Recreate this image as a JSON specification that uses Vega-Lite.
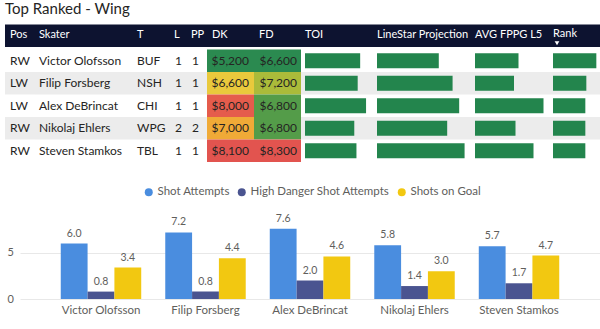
{
  "$schema": "https://vega.github.io/schema/vega-lite/v6.json",
  "padding": {"left": 5, "top": 2, "right": 0, "bottom": 0},
  "background": "white",
  "title": {"text": "Top Ranked - Wing", "anchor": "start", "fontSize": 15, "fontWeight": "normal", "color": "#252423", "font": "Lato", "offset": 7.5},
  "config": {"view": {"stroke": null}, "font": "Lato"},
  "datasets": {
    "players": [
      {"pos": "RW", "skater": "Victor Olofsson", "team": "BUF", "line": 1, "pp": 1, "dk": 5200, "fd": 6600, "toi": 17.8, "proj": 10.3, "fppg": 8.7, "rank": 13.0},
      {"pos": "LW", "skater": "Filip Forsberg", "team": "NSH", "line": 1, "pp": 1, "dk": 6600, "fd": 7200, "toi": 17.0, "proj": 12.6, "fppg": 7.8, "rank": 10.0},
      {"pos": "LW", "skater": "Alex DeBrincat", "team": "CHI", "line": 1, "pp": 1, "dk": 8000, "fd": 6800, "toi": 19.7, "proj": 13.7, "fppg": 13.7, "rank": 9.7},
      {"pos": "RW", "skater": "Nikolaj Ehlers", "team": "WPG", "line": 2, "pp": 2, "dk": 7000, "fd": 6800, "toi": 15.9, "proj": 11.7, "fppg": 8.1, "rank": 9.7},
      {"pos": "RW", "skater": "Steven Stamkos", "team": "TBL", "line": 1, "pp": 1, "dk": 8100, "fd": 8300, "toi": 16.6, "proj": 14.6, "fppg": 11.7, "rank": 9.7}
    ],
    "headers": [
      {"name": "Pos"}, {"name": "Skater"}, {"name": "T"}, {"name": "L"}, {"name": "PP"}, {"name": "DK"}, {"name": "FD"},
      {"name": "TOI"}, {"name": "LineStar Projection"}, {"name": "AVG FPPG L5"}, {"name": "Rank"}
    ],
    "shots": [
      {"player": "Victor Olofsson", "metric": "Shot Attempts", "value": 6.0},
      {"player": "Victor Olofsson", "metric": "High Danger Shot Attempts", "value": 0.8},
      {"player": "Victor Olofsson", "metric": "Shots on Goal", "value": 3.4},
      {"player": "Filip Forsberg", "metric": "Shot Attempts", "value": 7.2},
      {"player": "Filip Forsberg", "metric": "High Danger Shot Attempts", "value": 0.8},
      {"player": "Filip Forsberg", "metric": "Shots on Goal", "value": 4.4},
      {"player": "Alex DeBrincat", "metric": "Shot Attempts", "value": 7.6},
      {"player": "Alex DeBrincat", "metric": "High Danger Shot Attempts", "value": 2.0},
      {"player": "Alex DeBrincat", "metric": "Shots on Goal", "value": 4.6},
      {"player": "Nikolaj Ehlers", "metric": "Shot Attempts", "value": 5.8},
      {"player": "Nikolaj Ehlers", "metric": "High Danger Shot Attempts", "value": 1.4},
      {"player": "Nikolaj Ehlers", "metric": "Shots on Goal", "value": 3.0},
      {"player": "Steven Stamkos", "metric": "Shot Attempts", "value": 5.7},
      {"player": "Steven Stamkos", "metric": "High Danger Shot Attempts", "value": 1.7},
      {"player": "Steven Stamkos", "metric": "Shots on Goal", "value": 4.7}
    ]
  },
  "spacing": 24,
  "resolve": {"scale": {"fill": "independent", "color": "independent"}, "legend": {"color": "independent", "fill": "independent"}},
  "vconcat": [
    {
      "spacing": 0,
      "resolve": {"scale": {"fill": "independent"}},
      "hconcat": [
        {
          "width": 30, "height": 135, "data": {"name": "players"},
          "layer": [
            {"transform": [{"window": [{"op": "row_number", "as": "rn"}]}, {"filter": "datum.rn % 2 == 0"}], "mark": {"type": "rect", "color": "#ececec"}, "encoding": {"y": {"field": "skater", "type": "nominal", "scale": {"domain": [" ", "Victor Olofsson", "Filip Forsberg", "Alex DeBrincat", "Nikolaj Ehlers", "Steven Stamkos"], "paddingInner": 0, "paddingOuter": 0}, "axis": null}, "x": {"value": 0}, "x2": {"value": "width"}}},
            {"data": {"name": "headers"}, "transform": [{"filter": "datum.name == 'Pos'"}], "mark": {"type": "rect", "color": "#0d1330", "yOffset": -2.5}, "encoding": {"y": {"datum": " ", "type": "nominal"}, "x": {"value": 0}, "x2": {"value": "width"}}},
            {"data": {"name": "headers"}, "transform": [{"filter": "datum.name == 'Pos'"}], "mark": {"type": "text", "align": "left", "dx": 5, "dy": -3, "fontSize": 11, "color": "white"}, "encoding": {"y": {"datum": " ", "type": "nominal"}, "x": {"value": 0}, "text": {"field": "name"}}},
            {"mark": {"type": "text", "align": "left", "dx": 5, "fontSize": 12, "color": "#252423"}, "encoding": {"y": {"field": "skater", "type": "nominal"}, "x": {"value": 0}, "text": {"field": "pos"}}}
          ]
        },
        {
          "width": 98, "height": 135, "data": {"name": "players"},
          "layer": [
            {"transform": [{"window": [{"op": "row_number", "as": "rn"}]}, {"filter": "datum.rn % 2 == 0"}], "mark": {"type": "rect", "color": "#ececec"}, "encoding": {"y": {"field": "skater", "type": "nominal", "scale": {"domain": [" ", "Victor Olofsson", "Filip Forsberg", "Alex DeBrincat", "Nikolaj Ehlers", "Steven Stamkos"], "paddingInner": 0, "paddingOuter": 0}, "axis": null}, "x": {"value": 0}, "x2": {"value": "width"}}},
            {"data": {"name": "headers"}, "transform": [{"filter": "datum.name == 'Skater'"}], "mark": {"type": "rect", "color": "#0d1330", "yOffset": -2.5}, "encoding": {"y": {"datum": " ", "type": "nominal"}, "x": {"value": 0}, "x2": {"value": "width"}}},
            {"data": {"name": "headers"}, "transform": [{"filter": "datum.name == 'Skater'"}], "mark": {"type": "text", "align": "left", "dx": 4, "dy": -3, "fontSize": 11, "color": "white"}, "encoding": {"y": {"datum": " ", "type": "nominal"}, "x": {"value": 0}, "text": {"field": "name"}}},
            {"mark": {"type": "text", "align": "left", "dx": 4, "fontSize": 12, "color": "#252423"}, "encoding": {"y": {"field": "skater", "type": "nominal"}, "x": {"value": 0}, "text": {"field": "skater"}}}
          ]
        },
        {
          "width": 37, "height": 135, "data": {"name": "players"},
          "layer": [
            {"transform": [{"window": [{"op": "row_number", "as": "rn"}]}, {"filter": "datum.rn % 2 == 0"}], "mark": {"type": "rect", "color": "#ececec"}, "encoding": {"y": {"field": "skater", "type": "nominal", "scale": {"domain": [" ", "Victor Olofsson", "Filip Forsberg", "Alex DeBrincat", "Nikolaj Ehlers", "Steven Stamkos"], "paddingInner": 0, "paddingOuter": 0}, "axis": null}, "x": {"value": 0}, "x2": {"value": "width"}}},
            {"data": {"name": "headers"}, "transform": [{"filter": "datum.name == 'T'"}], "mark": {"type": "rect", "color": "#0d1330", "yOffset": -2.5}, "encoding": {"y": {"datum": " ", "type": "nominal"}, "x": {"value": 0}, "x2": {"value": "width"}}},
            {"data": {"name": "headers"}, "transform": [{"filter": "datum.name == 'T'"}], "mark": {"type": "text", "align": "left", "dx": 4, "dy": -3, "fontSize": 11, "color": "white"}, "encoding": {"y": {"datum": " ", "type": "nominal"}, "x": {"value": 0}, "text": {"field": "name"}}},
            {"mark": {"type": "text", "align": "left", "dx": 4, "fontSize": 12, "color": "#252423"}, "encoding": {"y": {"field": "skater", "type": "nominal"}, "x": {"value": 0}, "text": {"field": "team"}}}
          ]
        },
        {
          "width": 17, "height": 135, "data": {"name": "players"},
          "layer": [
            {"transform": [{"window": [{"op": "row_number", "as": "rn"}]}, {"filter": "datum.rn % 2 == 0"}], "mark": {"type": "rect", "color": "#ececec"}, "encoding": {"y": {"field": "skater", "type": "nominal", "scale": {"domain": [" ", "Victor Olofsson", "Filip Forsberg", "Alex DeBrincat", "Nikolaj Ehlers", "Steven Stamkos"], "paddingInner": 0, "paddingOuter": 0}, "axis": null}, "x": {"value": 0}, "x2": {"value": "width"}}},
            {"data": {"name": "headers"}, "transform": [{"filter": "datum.name == 'L'"}], "mark": {"type": "rect", "color": "#0d1330", "yOffset": -2.5}, "encoding": {"y": {"datum": " ", "type": "nominal"}, "x": {"value": 0}, "x2": {"value": "width"}}},
            {"data": {"name": "headers"}, "transform": [{"filter": "datum.name == 'L'"}], "mark": {"type": "text", "align": "left", "dx": 4, "dy": -3, "fontSize": 11, "color": "white"}, "encoding": {"y": {"datum": " ", "type": "nominal"}, "x": {"value": 0}, "text": {"field": "name"}}},
            {"mark": {"type": "text", "align": "left", "dx": 5, "fontSize": 12, "color": "#252423"}, "encoding": {"y": {"field": "skater", "type": "nominal"}, "x": {"value": 0}, "text": {"field": "line"}}}
          ]
        },
        {
          "width": 20, "height": 135, "data": {"name": "players"},
          "layer": [
            {"transform": [{"window": [{"op": "row_number", "as": "rn"}]}, {"filter": "datum.rn % 2 == 0"}], "mark": {"type": "rect", "color": "#ececec"}, "encoding": {"y": {"field": "skater", "type": "nominal", "scale": {"domain": [" ", "Victor Olofsson", "Filip Forsberg", "Alex DeBrincat", "Nikolaj Ehlers", "Steven Stamkos"], "paddingInner": 0, "paddingOuter": 0}, "axis": null}, "x": {"value": 0}, "x2": {"value": "width"}}},
            {"data": {"name": "headers"}, "transform": [{"filter": "datum.name == 'PP'"}], "mark": {"type": "rect", "color": "#0d1330", "yOffset": -2.5}, "encoding": {"y": {"datum": " ", "type": "nominal"}, "x": {"value": 0}, "x2": {"value": "width"}}},
            {"data": {"name": "headers"}, "transform": [{"filter": "datum.name == 'PP'"}], "mark": {"type": "text", "align": "left", "dx": 4, "dy": -3, "fontSize": 11, "color": "white"}, "encoding": {"y": {"datum": " ", "type": "nominal"}, "x": {"value": 0}, "text": {"field": "name"}}},
            {"mark": {"type": "text", "align": "left", "dx": 5, "fontSize": 12, "color": "#252423"}, "encoding": {"y": {"field": "skater", "type": "nominal"}, "x": {"value": 0}, "text": {"field": "pp"}}}
          ]
        },
        {
          "width": 47, "height": 135, "data": {"name": "players"},
          "layer": [
            {"data": {"name": "headers"}, "transform": [{"filter": "datum.name == 'DK'"}], "mark": {"type": "rect", "color": "#0d1330", "yOffset": -2.5}, "encoding": {"y": {"datum": " ", "type": "nominal", "scale": {"domain": [" ", "Victor Olofsson", "Filip Forsberg", "Alex DeBrincat", "Nikolaj Ehlers", "Steven Stamkos"], "paddingInner": 0, "paddingOuter": 0}, "axis": null}, "x": {"value": 0}, "x2": {"value": "width"}}},
            {"data": {"name": "headers"}, "transform": [{"filter": "datum.name == 'DK'"}], "mark": {"type": "text", "align": "left", "dx": 5, "dy": -3, "fontSize": 11, "color": "white"}, "encoding": {"y": {"datum": " ", "type": "nominal"}, "x": {"value": 0}, "text": {"field": "name"}}},
            {"mark": {"type": "rect"}, "encoding": {"y": {"field": "skater", "type": "nominal"}, "x": {"value": 0}, "x2": {"value": "width"}, "fill": {"field": "dk", "type": "quantitative", "scale": {"domain": [5200, 6600, 8100], "range": ["#2b8a50", "#e9c93c", "#e2544f"]}, "legend": null}}},
            {"mark": {"type": "text", "align": "right", "dx": -5, "fontSize": 12, "color": "#252423"}, "encoding": {"y": {"field": "skater", "type": "nominal"}, "x": {"value": "width"}, "text": {"field": "dk", "format": "$,.0f"}}}
          ]
        },
        {
          "width": 47, "height": 135, "data": {"name": "players"},
          "layer": [
            {"data": {"name": "headers"}, "transform": [{"filter": "datum.name == 'FD'"}], "mark": {"type": "rect", "color": "#0d1330", "yOffset": -2.5}, "encoding": {"y": {"datum": " ", "type": "nominal", "scale": {"domain": [" ", "Victor Olofsson", "Filip Forsberg", "Alex DeBrincat", "Nikolaj Ehlers", "Steven Stamkos"], "paddingInner": 0, "paddingOuter": 0}, "axis": null}, "x": {"value": 0}, "x2": {"value": "width"}}},
            {"data": {"name": "headers"}, "transform": [{"filter": "datum.name == 'FD'"}], "mark": {"type": "text", "align": "left", "dx": 5, "dy": -3, "fontSize": 11, "color": "white"}, "encoding": {"y": {"datum": " ", "type": "nominal"}, "x": {"value": 0}, "text": {"field": "name"}}},
            {"mark": {"type": "rect"}, "encoding": {"y": {"field": "skater", "type": "nominal"}, "x": {"value": 0}, "x2": {"value": "width"}, "fill": {"field": "fd", "type": "quantitative", "scale": {"domain": [6600, 7450, 8300], "range": ["#2b8a50", "#e9c93c", "#e2544f"]}, "legend": null}}},
            {"mark": {"type": "text", "align": "right", "dx": -4, "fontSize": 12, "color": "#252423"}, "encoding": {"y": {"field": "skater", "type": "nominal"}, "x": {"value": "width"}, "text": {"field": "fd", "format": "$,.0f"}}}
          ]
        },
        {
          "width": 72, "height": 135, "data": {"name": "players"},
          "layer": [
            {"transform": [{"window": [{"op": "row_number", "as": "rn"}]}, {"filter": "datum.rn % 2 == 0"}], "mark": {"type": "rect", "color": "#ececec"}, "encoding": {"y": {"field": "skater", "type": "nominal", "scale": {"domain": [" ", "Victor Olofsson", "Filip Forsberg", "Alex DeBrincat", "Nikolaj Ehlers", "Steven Stamkos"], "paddingInner": 0, "paddingOuter": 0}, "axis": null}, "x": {"value": 0}, "x2": {"value": "width"}}},
            {"data": {"name": "headers"}, "transform": [{"filter": "datum.name == 'TOI'"}], "mark": {"type": "rect", "color": "#0d1330", "yOffset": -2.5}, "encoding": {"y": {"datum": " ", "type": "nominal"}, "x": {"value": 0}, "x2": {"value": "width"}}},
            {"data": {"name": "headers"}, "transform": [{"filter": "datum.name == 'TOI'"}], "mark": {"type": "text", "align": "left", "dx": 4, "dy": -3, "fontSize": 11, "color": "white"}, "encoding": {"y": {"datum": " ", "type": "nominal"}, "x": {"value": 0}, "text": {"field": "name"}}},
            {"mark": {"type": "bar", "color": "#23854d", "height": {"band": 0.67}}, "encoding": {"y": {"field": "skater", "type": "nominal"}, "x": {"field": "toi", "type": "quantitative", "scale": {"domain": [0, 21.94], "range": [4, 72]}, "axis": null}}}
          ]
        },
        {
          "width": 98, "height": 135, "data": {"name": "players"},
          "layer": [
            {"transform": [{"window": [{"op": "row_number", "as": "rn"}]}, {"filter": "datum.rn % 2 == 0"}], "mark": {"type": "rect", "color": "#ececec"}, "encoding": {"y": {"field": "skater", "type": "nominal", "scale": {"domain": [" ", "Victor Olofsson", "Filip Forsberg", "Alex DeBrincat", "Nikolaj Ehlers", "Steven Stamkos"], "paddingInner": 0, "paddingOuter": 0}, "axis": null}, "x": {"value": 0}, "x2": {"value": "width"}}},
            {"data": {"name": "headers"}, "transform": [{"filter": "datum.name == 'LineStar Projection'"}], "mark": {"type": "rect", "color": "#0d1330", "yOffset": -2.5}, "encoding": {"y": {"datum": " ", "type": "nominal"}, "x": {"value": 0}, "x2": {"value": "width"}}},
            {"data": {"name": "headers"}, "transform": [{"filter": "datum.name == 'LineStar Projection'"}], "mark": {"type": "text", "align": "left", "dx": 4, "dy": -3, "fontSize": 11, "color": "white"}, "encoding": {"y": {"datum": " ", "type": "nominal"}, "x": {"value": 0}, "text": {"field": "name"}}},
            {"mark": {"type": "bar", "color": "#23854d", "height": {"band": 0.67}}, "encoding": {"y": {"field": "skater", "type": "nominal"}, "x": {"field": "proj", "type": "quantitative", "scale": {"domain": [0, 15.67], "range": [4, 98]}, "axis": null}}}
          ]
        },
        {
          "width": 78, "height": 135, "data": {"name": "players"},
          "layer": [
            {"transform": [{"window": [{"op": "row_number", "as": "rn"}]}, {"filter": "datum.rn % 2 == 0"}], "mark": {"type": "rect", "color": "#ececec"}, "encoding": {"y": {"field": "skater", "type": "nominal", "scale": {"domain": [" ", "Victor Olofsson", "Filip Forsberg", "Alex DeBrincat", "Nikolaj Ehlers", "Steven Stamkos"], "paddingInner": 0, "paddingOuter": 0}, "axis": null}, "x": {"value": 0}, "x2": {"value": "width"}}},
            {"data": {"name": "headers"}, "transform": [{"filter": "datum.name == 'AVG FPPG L5'"}], "mark": {"type": "rect", "color": "#0d1330", "yOffset": -2.5}, "encoding": {"y": {"datum": " ", "type": "nominal"}, "x": {"value": 0}, "x2": {"value": "width"}}},
            {"data": {"name": "headers"}, "transform": [{"filter": "datum.name == 'AVG FPPG L5'"}], "mark": {"type": "text", "align": "left", "dx": 4, "dy": -3, "fontSize": 11, "color": "white"}, "encoding": {"y": {"datum": " ", "type": "nominal"}, "x": {"value": 0}, "text": {"field": "name"}}},
            {"mark": {"type": "bar", "color": "#23854d", "height": {"band": 0.67}}, "encoding": {"y": {"field": "skater", "type": "nominal"}, "x": {"field": "fppg", "type": "quantitative", "scale": {"domain": [0, 14.8], "range": [4, 78]}, "axis": null}}}
          ]
        },
        {
          "width": 51, "height": 135, "data": {"name": "players"},
          "layer": [
            {"transform": [{"window": [{"op": "row_number", "as": "rn"}]}, {"filter": "datum.rn % 2 == 0"}], "mark": {"type": "rect", "color": "#ececec"}, "encoding": {"y": {"field": "skater", "type": "nominal", "scale": {"domain": [" ", "Victor Olofsson", "Filip Forsberg", "Alex DeBrincat", "Nikolaj Ehlers", "Steven Stamkos"], "paddingInner": 0, "paddingOuter": 0}, "axis": null}, "x": {"value": 0}, "x2": {"value": "width"}}},
            {"data": {"name": "headers"}, "transform": [{"filter": "datum.name == 'Rank'"}], "mark": {"type": "rect", "color": "#0d1330", "yOffset": -2.5}, "encoding": {"y": {"datum": " ", "type": "nominal"}, "x": {"value": 0}, "x2": {"value": "width"}}},
            {"data": {"name": "headers"}, "transform": [{"filter": "datum.name == 'Rank'"}], "mark": {"type": "text", "align": "left", "dx": 4, "dy": -4, "fontSize": 11, "color": "white"}, "encoding": {"y": {"datum": " ", "type": "nominal"}, "x": {"value": 0}, "text": {"field": "name"}}},
            {"data": {"name": "headers"}, "transform": [{"filter": "datum.name == 'Rank'"}], "mark": {"type": "point", "shape": "triangle-down", "filled": true, "color": "white", "opacity": 1, "size": 22, "xOffset": 8, "yOffset": 5}, "encoding": {"y": {"datum": " ", "type": "nominal"}, "x": {"value": 0}}},
            {"mark": {"type": "bar", "color": "#23854d", "height": {"band": 0.67}}, "encoding": {"y": {"field": "skater", "type": "nominal"}, "x": {"field": "rank", "type": "quantitative", "scale": {"domain": [0, 14.1], "range": [4, 51]}, "axis": null}}}
          ]
        }
      ]
    },
    {
      "width": 595, "height": 74,
      "data": {"name": "shots"},
      "encoding": {
        "x": {"field": "player", "type": "nominal", "sort": ["Victor Olofsson", "Filip Forsberg", "Alex DeBrincat", "Nikolaj Ehlers", "Steven Stamkos"], "scale": {"paddingInner": 0.23, "paddingOuter": 0.39, "range": [15, 595]}, "axis": {"title": null, "labelAngle": 0, "domain": false, "ticks": false, "labelPadding": 5, "labelFontSize": 11.5, "labelColor": "#605e5c", "labelFont": "Lato"}},
        "xOffset": {"field": "metric", "type": "nominal", "sort": ["Shot Attempts", "High Danger Shot Attempts", "Shots on Goal"]},
        "y": {"field": "value", "type": "quantitative", "scale": {"domain": [0, 8], "nice": false}, "axis": {"title": null, "values": [0, 5], "domain": false, "ticks": false, "labelAlign": "left", "labelPadding": -2, "grid": true, "gridColor": "#e8e8e8", "labelColor": "#605e5c", "labelFontSize": 11, "labelFont": "Lato"}}
      },
      "layer": [
        {"mark": {"type": "bar"}, "encoding": {"color": {"field": "metric", "type": "nominal", "sort": ["Shot Attempts", "High Danger Shot Attempts", "Shots on Goal"], "scale": {"domain": ["Shot Attempts", "High Danger Shot Attempts", "Shots on Goal"], "range": ["#4a8ddf", "#4a5490", "#f2c811"]}, "legend": {"title": null, "orient": "none", "legendX": 138, "legendY": -39, "direction": "horizontal", "symbolType": "circle", "symbolSize": 64, "symbolStrokeWidth": 0, "labelFontSize": 11.5, "labelColor": "#605e5c", "labelFont": "Lato", "columnPadding": 6, "labelOffset": 3}}}},
        {"mark": {"type": "text", "baseline": "bottom", "dy": -5, "fontSize": 10.5, "color": "#605e5c", "font": "Lato"}, "encoding": {"text": {"field": "value", "type": "quantitative", "format": ".1f"}}}
      ]
    }
  ]
}
